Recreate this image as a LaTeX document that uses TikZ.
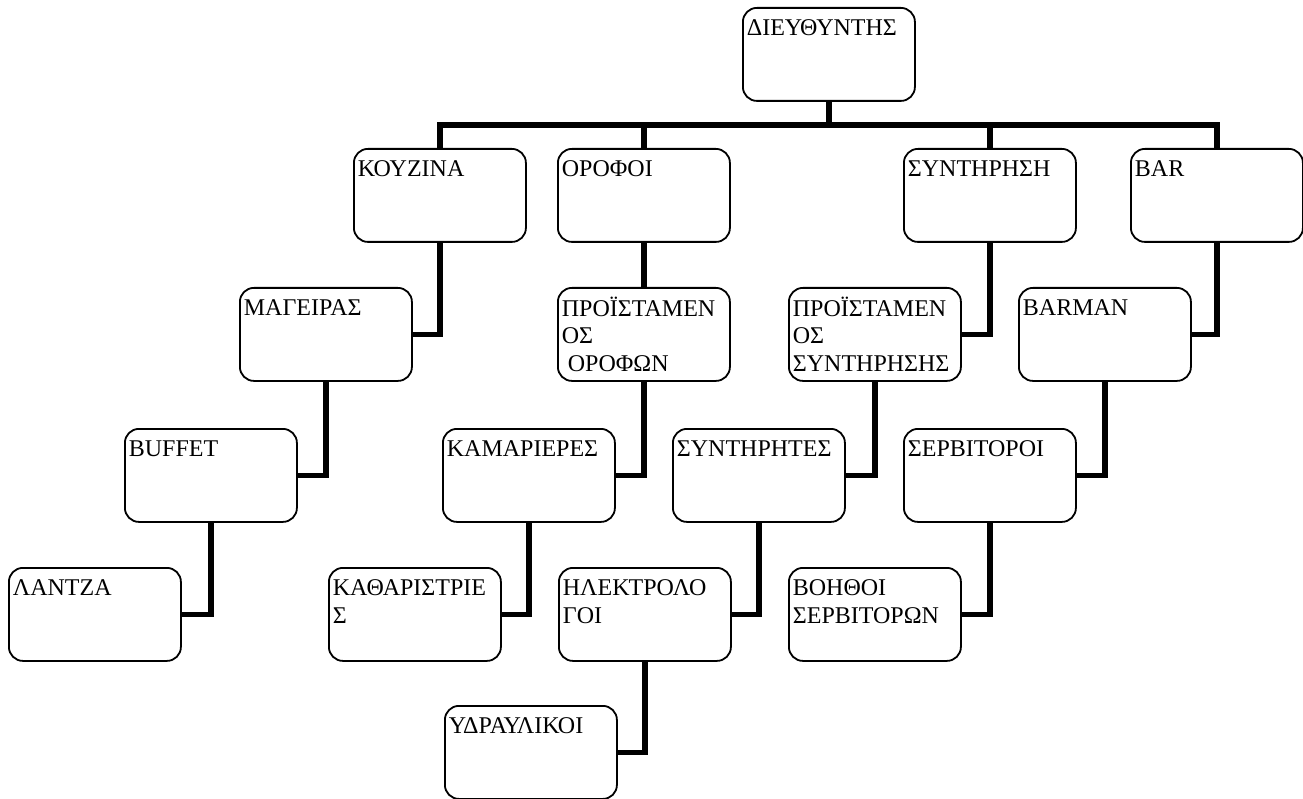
\documentclass[tikz,border=0pt]{standalone}
\usepackage{fontspec}
\setmainfont{Liberation Serif}
\usepackage{tikz}
\usetikzlibrary{positioning}

\newcommand{\unittext}[1]{\parbox[t][75.5pt][t]{164pt}{\raggedright\strut #1}}

\begin{document}
\begin{tikzpicture}[x=1pt,y=-1pt]
    \tikzstyle{unit}=[draw,rounded corners=14pt,line width=1.8pt,inner xsep=4pt,inner ysep=8.75pt,anchor=north west,font=\fontsize{24}{27.5}\selectfont]
    \tikzstyle{link}=[line width=5.5pt]

    \useasboundingbox (0,0) rectangle (1303,799);

    \node[unit] (dir) at (742,7) {\unittext{ΔΙΕΥΘΥΝΤΗΣ}};

    \node[unit] (kouzina) at (353,148) {\unittext{ΚΟΥΖΙΝΑ}};
    \node[unit] (orofoi) at (557,148) {\unittext{ΟΡΟΦΟΙ}};
    \node[unit] (syntirisi) at (903,148) {\unittext{ΣΥΝΤΗΡΗΣΗ}};
    \node[unit] (bar) at (1130,148) {\unittext{BAR}};

    \node[unit] (mageiras) at (239,287) {\unittext{ΜΑΓΕΙΡΑΣ}};
    \node[unit] (proorofon) at (557,287) {\unittext{ΠΡΟΪΣΤΑΜΕΝ\\ΟΣ\\\hspace*{6pt}ΟΡΟΦΩΝ}};
    \node[unit] (prosynt) at (788,287) {\unittext{ΠΡΟΪΣΤΑΜΕΝ\\ΟΣ\\ΣΥΝΤΗΡΗΣΗΣ}};
    \node[unit] (barman) at (1018,287) {\unittext{BARMAN}};

    \node[unit] (buffet) at (124,428) {\unittext{BUFFET}};
    \node[unit] (kamarieres) at (442,428) {\unittext{ΚΑΜΑΡΙΕΡΕΣ}};
    \node[unit] (syntirites) at (672,428) {\unittext{ΣΥΝΤΗΡΗΤΕΣ}};
    \node[unit] (servitoroi) at (903,428) {\unittext{ΣΕΡΒΙΤΟΡΟΙ}};

    \node[unit] (lantza) at (8,567) {\unittext{ΛΑΝΤΖΑ}};
    \node[unit] (kathar) at (328,567) {\unittext{ΚΑΘΑΡΙΣΤΡΙΕ\\Σ}};
    \node[unit] (ilektr) at (558,567) {\unittext{ΗΛΕΚΤΡΟΛΟ\\ΓΟΙ}};
    \node[unit] (voithoi) at (788,567) {\unittext{ΒΟΗΘΟΙ\\ΣΕΡΒΙΤΟΡΩΝ}};

    \node[unit] (ydravl) at (444,705) {\unittext{ΥΔΡΑΥΛΙΚΟΙ}};

    % bus under the director
    \coordinate (bus) at (0,125);
    \draw[link] (dir.south) -- (dir.south |- bus);
    \draw[link] (kouzina.north) |- (bar.north |- bus) -- (bar.north);
    \draw[link] (orofoi.north) -- (orofoi.north |- bus);
    \draw[link] (syntirisi.north) -- (syntirisi.north |- bus);

    \draw[link] (kouzina.south) |- (mageiras.east);
    \draw[link] (mageiras.south) |- (buffet.east);
    \draw[link] (buffet.south) |- (lantza.east);
    \draw[link] (orofoi.south) -- (proorofon.north);
    \draw[link] (proorofon.south) |- (kamarieres.east);
    \draw[link] (kamarieres.south) |- (kathar.east);
    \draw[link] (syntirisi.south) |- (prosynt.east);
    \draw[link] (prosynt.south) |- (syntirites.east);
    \draw[link] (syntirites.south) |- (ilektr.east);
    \draw[link] (ilektr.south) |- (ydravl.east);
    \draw[link] (bar.south) |- (barman.east);
    \draw[link] (barman.south) |- (servitoroi.east);
    \draw[link] (servitoroi.south) |- (voithoi.east);
\end{tikzpicture}
\end{document}
